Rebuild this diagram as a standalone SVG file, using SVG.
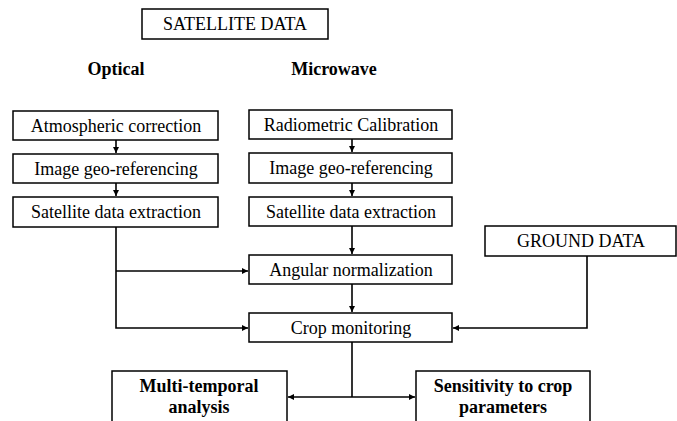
<svg xmlns="http://www.w3.org/2000/svg" width="677" height="421" viewBox="0 0 677 421" font-family="'Liberation Serif', 'DejaVu Serif', serif">
<style>
.box{fill:#fff;stroke:#000;stroke-width:1.5}
.t{font-family:'Liberation Serif','DejaVu Serif',serif;font-size:18px;text-anchor:middle;fill:#000}
.b{font-weight:bold}
.c{fill:none;stroke:#000;stroke-width:1.6}
</style>
<defs>
<marker id="ah" markerWidth="8" markerHeight="8" refX="6" refY="3" orient="auto" markerUnits="userSpaceOnUse">
<path d="M0,0 L6,3 L0,6 Z" fill="#000"/>
</marker>
</defs>
<rect width="677" height="421" fill="#fff"/>
<g id="satellite"><rect class="box" x="142" y="9" width="186" height="30"/><text class="t" x="235" y="30">SATELLITE DATA</text></g>
<g id="optical"><text class="t b" x="116" y="75">Optical</text></g>
<g id="microwave"><text class="t b" x="334" y="75">Microwave</text></g>
<g id="atm"><rect class="box" x="13" y="111" width="205" height="29"/><text class="t" x="116" y="132">Atmospheric correction</text></g>
<g id="geo1"><rect class="box" x="13" y="154" width="205" height="29"/><text class="t" x="116" y="175">Image geo-referencing</text></g>
<g id="ext1"><rect class="box" x="13" y="197" width="205" height="30"/><text class="t" x="116" y="218">Satellite data extraction</text></g>
<g id="rad"><rect class="box" x="249" y="110" width="203" height="29"/><text class="t" x="351" y="131">Radiometric Calibration</text></g>
<g id="geo2"><rect class="box" x="249" y="153" width="203" height="30"/><text class="t" x="351" y="174">Image geo-referencing</text></g>
<g id="ext2"><rect class="box" x="249" y="197" width="203" height="29"/><text class="t" x="351" y="218">Satellite data extraction</text></g>
<g id="ang"><rect class="box" x="249" y="255" width="203" height="29"/><text class="t" x="351" y="276">Angular normalization</text></g>
<g id="ground"><rect class="box" x="485" y="226" width="191" height="30"/><text class="t" x="581" y="247">GROUND DATA</text></g>
<g id="crop"><rect class="box" x="249" y="313" width="203" height="29"/><text class="t" x="351" y="334">Crop monitoring</text></g>
<g id="multi"><rect class="box" x="112" y="371" width="175" height="60"/><text class="t b" x="199" y="392">Multi-temporal</text><text class="t b" x="199" y="413">analysis</text></g>
<g id="sens"><rect class="box" x="416" y="371" width="174" height="60"/><text class="t b" x="503" y="392">Sensitivity to crop</text><text class="t b" x="503" y="413">parameters</text></g>
<g id="connectors">
<path class="c" d="M116,140 V153" marker-end="url(#ah)"/>
<path class="c" d="M116,183 V196" marker-end="url(#ah)"/>
<path class="c" d="M352,139 V152" marker-end="url(#ah)"/>
<path class="c" d="M352,183 V196" marker-end="url(#ah)"/>
<path class="c" d="M352,226 V254" marker-end="url(#ah)"/>
<path class="c" d="M352,284 V312" marker-end="url(#ah)"/>
<path class="c" d="M116,227 V328 H248" marker-end="url(#ah)"/>
<path class="c" d="M116,271 H248" marker-end="url(#ah)"/>
<path class="c" d="M587,256 V328 H453" marker-end="url(#ah)"/>
<path class="c" d="M352,342 V397"/>
<path class="c" d="M352,397 H288" marker-end="url(#ah)"/>
<path class="c" d="M352,397 H415" marker-end="url(#ah)"/>
</g>
</svg>
